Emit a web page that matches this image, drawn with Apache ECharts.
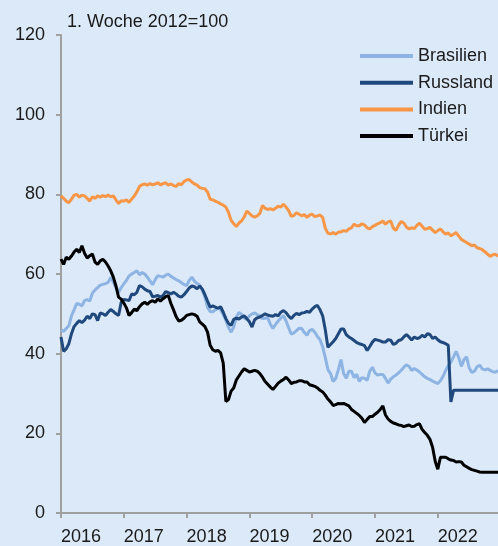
<!DOCTYPE html>
<html>
<head>
<meta charset="utf-8">
<script src="https://cdn.jsdelivr.net/npm/echarts@6/dist/echarts.min.js"></script>
<style>
html,body{margin:0;padding:0;background:#dce9f8;}
#chart{width:498px;height:546px;}
</style>
</head>
<body>
<div id="chart"></div>
<script>
// Years shown on the x axis (each year split into 24 half-month steps)
const yearLabels = ['2016','2017','2018','2019','2020','2021','2022'];
const stepsPerYear = 24;
const unitLabel = '1. Woche 2012=100';
const seriesNames = ['Brasilien','Russland','Indien','Türkei'];

const brasilien = [
46,45.6,46.3,47,49.5,51,52.6,52.4,52,53.3,53.6,53.2,55.2,56,56.6,57.2,57.4,57.6,57.9,59.1,58,56.5,55.4,56.6,
57.5,58.4,59.5,60,60.4,60.8,59.8,60.4,60,59.2,58.3,57.3,58.6,59.6,59.4,59.2,59.7,60,59.4,59,58.6,58.3,57.8,57.4,
57.1,58.4,59.2,58.2,57.6,57.2,55.9,54.2,51.6,50.6,50.5,51,51.4,51.1,49.8,48.4,46.6,45.4,46.7,49.2,50.3,49.9,48.9,48.6,
49.5,50,50.2,49.8,49.5,48.8,48.9,49,47.4,46.3,47.4,48.2,48.9,49.6,48.2,46.5,44.9,45.2,45.8,46.4,46.3,45.3,44.6,45.8,
46.1,45.4,44.3,43.5,41.7,39,36,35,33,33.8,36,38.5,35,33.8,35.6,35.6,34,34.8,33,34,33.8,33.3,35.6,36.6,
35.2,34.6,34.8,34.8,33.8,32.6,33.6,34.2,34.6,35.2,35.8,36.6,37.2,36.8,35.8,36.25,35.9,35.4,34.8,34.2,33.8,33.5,33.1,32.8,
32.5,33.2,34.3,35.8,37,37.9,39.2,40.6,39,36.8,38.5,39.2,36.4,35.3,35.6,36.7,37.1,36.2,35.9,36.2,35.8,35.5,35.3,35.8
];
const russland = [
44.2,40.6,41.2,42.5,45,46.8,47.6,48.3,47.8,48.4,49.4,48.8,50,49.8,48.3,50.2,50,49.6,50.4,51.1,50.6,50,49.6,52.9,
53.6,53.5,53.3,55,54.8,55.4,57.1,56.8,56.2,55.8,55.6,54.3,54.4,54.6,54.2,54.6,55.6,55.3,55,55.4,55,54.4,54.2,54.8,
55.6,56.5,57,56.8,56.3,57,56.2,54.8,53.2,51.7,52,51.7,51.4,51.8,50.4,48.8,47.6,47.1,48.6,48.9,48.7,49.2,49.5,48.8,
48,46.7,48.5,49,49.2,49.6,50,49.7,49.5,49.4,49.8,49.5,50.4,50.8,50.3,49.4,48.8,49.6,50.1,49.8,50.2,50.3,50.6,50.4,
51.2,51.8,52.1,51,49.5,46,41.6,42.3,43,43.8,45,46.2,46.2,44.8,44.2,43.8,43.3,42.8,42.5,42.3,42,40.8,41.8,42.9,
43.6,43.4,43.2,42.9,42.9,43.5,43.4,42.3,42.6,43.3,43.5,44.2,44.8,44.2,43.4,44.2,43.8,44,44.6,44.2,45,44.8,43.8,44.2,
43.5,43,42.8,42.5,42.1,27.9,30.8,30.8,30.8,30.8,30.8,30.8,30.8,30.8,30.8,30.8,30.8,30.8,30.8,30.8,30.8,30.8,30.8,30.8
];
const indien = [
79.6,79,78.3,77.9,78.8,79.8,80,79.3,79.8,79.6,79,78.3,79.4,79,79.6,79.3,79.7,79.4,79.8,79.4,79.6,78.6,77.7,78.4,
78.3,78.6,78,78.8,79.6,80.6,82,82.4,82.6,82.3,82.7,82.4,82.6,82.9,82.4,82.7,82.9,82.3,82.6,82.2,82,82.7,82.4,83.2,
83.6,83.7,83.1,82.6,82.3,81.7,81.5,81.4,80.6,78.75,78.6,78.3,78,77.6,77.3,76.8,75.5,73.5,72.6,71.9,72.8,73.3,74.3,75.8,
75.2,74.6,74.3,74.6,75.2,77.2,76.5,76.2,76.4,76.1,76.5,77,76.8,77.5,76.8,75.9,74.5,74.7,75.4,75,74.6,74.9,74.2,74.8,
75,74.4,74.6,74.8,74.2,71.5,70.2,70.1,70.4,70,70.5,70.6,70.9,70.7,71.3,71.6,72.5,72.1,72.1,72.6,72.3,71.6,71.3,71.9,
72.2,72.6,72.9,73.3,72.5,73.1,73.3,71.5,71,72.2,73.2,72.8,71.8,71.3,71.6,71.4,72.2,72.75,72,71.25,71.4,71.7,71,70.4,
70.9,71.3,70.6,70,70.3,69.6,70,70.4,69.5,68.7,68.3,67.9,67.5,67.1,67.3,66.6,66.4,66.1,65.6,65,64.4,64.8,65,64.4
];
const tuerkei = [
63.75,62.4,64.2,63.7,64.5,65.5,66.2,65.4,67.1,65.2,64,64.6,65,63,62.4,63.3,63.7,63,62,60.8,59.2,57,54.2,53.7,
52.7,51.5,49.6,50.3,51.2,50.8,51.8,52.5,52.9,52.4,53,53.3,52.9,53.75,53.2,53.8,54.3,54.6,52.6,51,49.3,48.2,48.4,48.9,
49.6,49.8,50,49.8,49.4,48,47.4,46.8,45.4,42.1,41,40.6,40.8,40.2,37.6,28,28.5,30.6,31.4,33.4,34.4,35.4,36.2,35.8,
35.4,35.6,35.8,35.6,35,34.1,33,32.3,31.6,31,31.8,32.6,33.1,33.5,34.1,33.4,32.5,32.8,32.9,33.2,33.2,32.9,32.9,32.2,
32,31.8,31.4,30.8,30.4,29.6,28.6,27.9,27,27.2,27.5,27.4,27.5,27.2,26.9,26,25.5,25,24.5,23.8,22.7,23.5,24.2,24.2,
24.8,25.3,26,26.9,24.6,23.6,23,22.6,22.4,22.1,22,21.7,21.9,22.1,21.7,21.8,22.2,22.4,21,20.2,19.5,18.5,16.5,13,
11,14,14,14,13.6,13.3,13.2,12.8,12.9,12.8,12,11.6,11.2,10.9,10.7,10.5,10.3,10.25,10.2,10.2,10.2,10.2,10.2,10.2
];
const colors = ['#8db4e2','#1f497d','#f79646','#000000'];

// category steps: year + half-month number
const categories = [];
for (const y of yearLabels) {
  for (let k = 0; k < stepsPerYear; k++) categories.push(y + '-' + k);
}
const n = brasilien.length;
const cats = categories.slice(0, n);

const chart = echarts.init(document.getElementById('chart'), null, {renderer:'canvas'});
const font = 'Liberation Sans, Arial, sans-serif';
const mk = (name, data, color) => ({
  name, type:'line', data, symbol:'none', smooth:false,
  lineStyle:{color, width:3}, itemStyle:{color}, animation:false
});
chart.setOption({
  backgroundColor:'#dce9f8',
  animation:false,
  title:{text:unitLabel, left:67, top:13, padding:0,
    textStyle:{fontFamily:font, fontSize:18, fontWeight:'normal', color:'#1a1a1a'}},
  legend:{
    data:seriesNames, orient:'vertical', left:360, top:47, padding:0,
    icon:'rect', itemWidth:53, itemHeight:4, itemGap:8.7,
    textStyle:{fontFamily:font, fontSize:18, color:'#1a1a1a', padding:[0,0,0,0]}
  },
  grid:{left:61, right:0, top:35, bottom:30.5, containLabel:false},
  xAxis:{
    type:'category', data:cats, boundaryGap:false,
    axisLine:{lineStyle:{color:'#a0a0a0', width:2}},
    axisTick:{show:true, length:5, lineStyle:{color:'#a0a0a0', width:2},
      interval:(i)=> i % stepsPerYear === 0},
    axisLabel:{
      interval:(i)=> i % stepsPerYear === 0,
      formatter:(v)=> v.split('-')[0],
      align:'left', margin:15, padding:0,
      fontFamily:font, fontSize:18, color:'#1a1a1a'
    },
    splitLine:{show:false}
  },
  yAxis:{
    type:'value', min:0, max:120, interval:20,
    axisLine:{show:true, lineStyle:{color:'#a0a0a0', width:2}},
    axisTick:{show:true, length:5, lineStyle:{color:'#a0a0a0', width:2}},
    axisLabel:{margin:16, fontFamily:font, fontSize:18, color:'#1a1a1a'},
    splitLine:{show:false}
  },
  series:[
    mk(seriesNames[0], brasilien, colors[0]),
    mk(seriesNames[1], russland, colors[1]),
    mk(seriesNames[2], indien, colors[2]),
    mk(seriesNames[3], tuerkei, colors[3])
  ]
});
</script>
</body>
</html>
